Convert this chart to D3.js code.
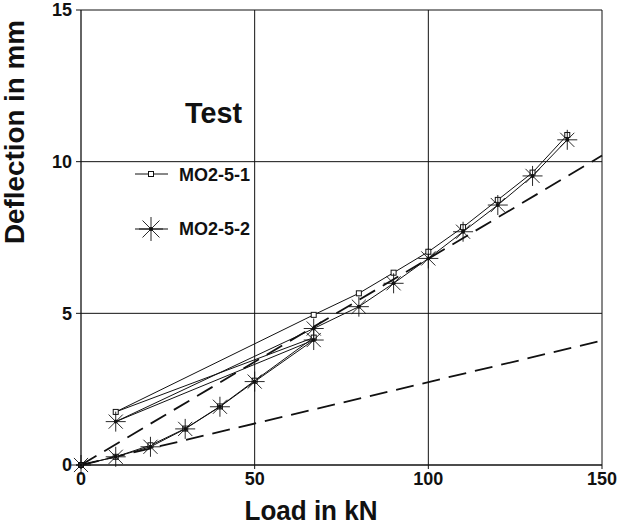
<!DOCTYPE html>
<html>
<head>
<meta charset="utf-8">
<script src="https://cdn.jsdelivr.net/npm/d3@7"></script>
<style>
  body { margin: 0; background: #fff; }
  svg { display: block; font-family: "Liberation Sans", Arial, sans-serif; }
</style>
</head>
<body>
<svg id="chart" width="620" height="526"></svg>
<script>
// ---- data ----
const loads = [0, 10, 20, 30, 40, 50, 67, 10, 67, 80, 90, 100, 110, 120, 130, 140];
const deflMO251 = [0, 0.27, 0.65, 1.2, 1.93, 2.78, 4.2, 1.75, 4.95, 5.66, 6.34, 7.03, 7.84, 8.74, 9.64, 10.88];
const deflMO252 = [0, 0.27, 0.6, 1.19, 1.92, 2.75, 4.12, 1.43, 4.5, 5.22, 5.99, 6.81, 7.69, 8.57, 9.53, 10.72];
const calcLoads = [0, 150];
const calcUpper = [0, 10.2];
const calcLower = [0, 4.1];
const xTicks = [0, 50, 100, 150];
const yTicks = [0, 5, 10, 15];
const seriesNames = ["MO2-5-1", "MO2-5-2"];

const svg = d3.select("#chart");
const x = d3.scaleLinear().domain([0, 150]).range([81, 602]);
const y = d3.scaleLinear().domain([0, 15]).range([465, 10]);
const ink = "#111";

// grid lines (with small ticks outside)
const g = svg.append("g");
g.selectAll("line.vg").data(xTicks).join("line")
  .attr("x1", d => x(d)).attr("x2", d => x(d))
  .attr("y1", y(15)).attr("y2", y(0) + 4)
  .attr("stroke", ink).attr("stroke-width", d => d === 0 ? 1.3 : 1);
g.selectAll("line.hg").data(yTicks).join("line")
  .attr("x1", x(0) - 5).attr("x2", x(150))
  .attr("y1", d => y(d)).attr("y2", d => y(d))
  .attr("stroke", ink).attr("stroke-width", d => d === 0 ? 1.3 : 1);

// tick labels
g.selectAll("text.xt").data(xTicks).join("text")
  .attr("x", d => x(d)).attr("y", 485)
  .attr("text-anchor", "middle").attr("font-size", 18).attr("font-weight", "bold")
  .attr("fill", ink).text(d => d);
g.selectAll("text.yt").data(yTicks).join("text")
  .attr("x", 72).attr("y", d => y(d)).attr("dy", "0.36em")
  .attr("text-anchor", "end").attr("font-size", 18).attr("font-weight", "bold")
  .attr("fill", ink).text(d => d);

// axis titles
svg.append("text").attr("x", 311).attr("y", 520).attr("text-anchor", "middle")
  .attr("font-size", 28).attr("font-weight", "bold").attr("fill", ink)
  .attr("textLength", 133).attr("lengthAdjust", "spacingAndGlyphs")
  .text("Load in kN");
svg.append("text").attr("transform", "translate(24,132) rotate(-90)")
  .attr("text-anchor", "middle").attr("font-size", 27).attr("font-weight", "bold")
  .attr("fill", ink).attr("textLength", 224).attr("lengthAdjust", "spacingAndGlyphs")
  .text("Deflection in mm");

// dashed calculation lines
const line = d3.line().x(d => x(d[0])).y(d => y(d[1]));
[calcUpper, calcLower].forEach(vals => {
  svg.append("path").datum(calcLoads.map((l, i) => [l, vals[i]]))
    .attr("d", line).attr("fill", "none").attr("stroke", ink)
    .attr("stroke-width", 1.8).attr("stroke-dasharray", "18,9");
});

// test series lines
const s1 = loads.map((l, i) => [l, deflMO251[i]]);
const s2 = loads.map((l, i) => [l, deflMO252[i]]);
[s1, s2].forEach(s => {
  svg.append("path").datum(s).attr("d", line).attr("fill", "none")
    .attr("stroke", ink).attr("stroke-width", 1);
});

// star marker
function star(sel, cx, cy, r) {
  const gg = sel.append("g").attr("transform", `translate(${cx},${cy})`);
  for (let k = 0; k < 4; k++) {
    const a = k * Math.PI / 4;
    gg.append("line")
      .attr("x1", -r * Math.cos(a)).attr("y1", -r * Math.sin(a))
      .attr("x2", r * Math.cos(a)).attr("y2", r * Math.sin(a))
      .attr("stroke", ink).attr("stroke-width", 0.9);
  }
  gg.append("circle").attr("r", 2).attr("fill", ink);
}

// markers
svg.append("g").selectAll("rect").data(s1).join("rect")
  .attr("x", d => x(d[0]) - 2.5).attr("y", d => y(d[1]) - 2.5)
  .attr("width", 5).attr("height", 5)
  .attr("fill", "#fff").attr("stroke", ink).attr("stroke-width", 1);
const sg = svg.append("g");
s2.forEach(d => star(sg, x(d[0]), y(d[1]), 10));

// legend
svg.append("text").attr("x", 185).attr("y", 123).attr("font-size", 30)
  .attr("font-weight", "bold")
  .attr("fill", ink).attr("textLength", 57).attr("lengthAdjust", "spacingAndGlyphs")
  .text("Test");
const lg = svg.append("g");
lg.append("line").attr("x1", 135).attr("x2", 168).attr("y1", 174).attr("y2", 174)
  .attr("stroke", ink).attr("stroke-width", 1);
lg.append("rect").attr("x", 148.5).attr("y", 171.5).attr("width", 5).attr("height", 5)
  .attr("fill", "#fff").attr("stroke", ink);
lg.append("text").attr("x", 179).attr("y", 181).attr("font-size", 18)
  .attr("font-weight", "bold").attr("fill", ink).text(seriesNames[0]);
lg.append("line").attr("x1", 135).attr("x2", 168).attr("y1", 229).attr("y2", 229)
  .attr("stroke", ink).attr("stroke-width", 1);
star(lg, 151, 229, 12);
lg.append("text").attr("x", 179).attr("y", 235).attr("font-size", 18)
  .attr("font-weight", "bold").attr("fill", ink).text(seriesNames[1]);
</script>
</body>
</html>
